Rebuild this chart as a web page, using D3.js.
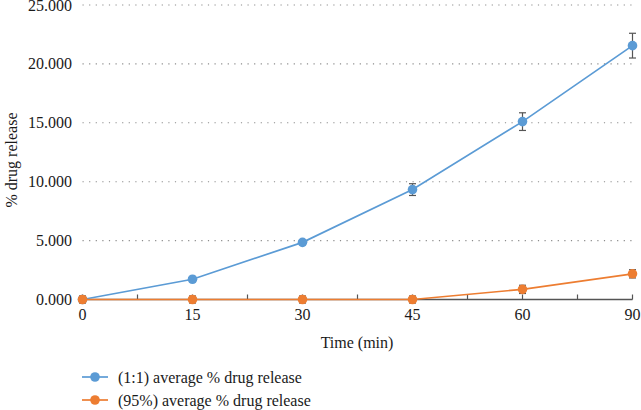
<!DOCTYPE html>
<html>
<head>
<meta charset="utf-8">
<script src="https://cdn.jsdelivr.net/npm/d3@7"></script>
<style>
  body { margin: 0; background: #fff; }
  svg { display: block; font-family: "Liberation Serif", "Times New Roman", serif; }
</style>
</head>
<body>
<div id="chart"></div>
<script>
// chart values
const times = ['0', '15', '30', '45', '60', '90'];
const ratioMeans = [0, 1.72, 4.85, 9.33, 15.1, 21.55];
const ratioErrors = [0.15, 0.15, 0.15, 0.5, 0.75, 1.05];
const pctMeans = [0, 0, 0, 0, 0.86, 2.18];
const pctErrors = [0.3, 0.3, 0.3, 0.3, 0.35, 0.35];
const yTicks = [0, 5, 10, 15, 20, 25];
const seriesNames = ['(1:1) average % drug release', '(95%) average % drug release'];

const width = 641;
const height = 410;

const svg = d3.select('#chart')
  .append('svg')
  .attr('width', width)
  .attr('height', height);

const xScale = d3.scalePoint().domain(times).range([82.5, 632.5]);
const yScale = d3.scaleLinear().domain([0, 25]).range([299.5, 5]);

// gridlines
svg.append('g')
  .selectAll('line')
  .data(yTicks.slice(1))
  .join('line')
  .attr('x1', 82.5)
  .attr('x2', 632.5)
  .attr('y1', (d) => yScale(d))
  .attr('y2', (d) => yScale(d))
  .attr('stroke', '#8c8c8c')
  .attr('stroke-width', 1.1)
  .attr('stroke-dasharray', '1.2,5.4');

// y labels
svg.append('g')
  .selectAll('text')
  .data(yTicks)
  .join('text')
  .attr('x', 72)
  .attr('y', (d) => yScale(d) + 5.5)
  .attr('text-anchor', 'end')
  .attr('font-size', 16)
  .attr('fill', '#1a1a1a')
  .text((d) => d3.format('.3f')(d));

// x axis line, ticks between and at categories
const step = xScale.step();
const tickPos = d3.range(0, times.length * 2 - 1).map((i) => 82.5 + i * step / 2);
const xAxis = svg.append('g');
xAxis.append('line')
  .attr('x1', 82.5)
  .attr('x2', 632.5)
  .attr('y1', yScale(0))
  .attr('y2', yScale(0))
  .attr('stroke', '#555')
  .attr('stroke-width', 1.4);
xAxis.selectAll('.tk')
  .data(tickPos)
  .join('line')
  .attr('class', 'tk')
  .attr('x1', (d) => d)
  .attr('x2', (d) => d)
  .attr('y1', yScale(0))
  .attr('y2', yScale(0) - 5)
  .attr('stroke', '#555')
  .attr('stroke-width', 1.2);
xAxis.selectAll('text')
  .data(times)
  .join('text')
  .attr('x', (d) => xScale(d))
  .attr('y', 320)
  .attr('text-anchor', 'middle')
  .attr('font-size', 16)
  .attr('fill', '#1a1a1a')
  .text((d) => d);

// axis titles
svg.append('text')
  .attr('x', 357)
  .attr('y', 348)
  .attr('text-anchor', 'middle')
  .attr('font-size', 16)
  .attr('fill', '#1a1a1a')
  .text('Time (min)');

svg.append('text')
  .attr('transform', 'translate(17, 160) rotate(-90)')
  .attr('text-anchor', 'middle')
  .attr('font-size', 16)
  .attr('fill', '#1a1a1a')
  .text('% drug release');

const series = [
  { name: seriesNames[0], means: ratioMeans, errors: ratioErrors, color: '#5b9bd5' },
  { name: seriesNames[1], means: pctMeans, errors: pctErrors, color: '#ed7d31' },
];

const line = d3.line()
  .x((d, i) => xScale(times[i]))
  .y((d) => yScale(d));

series.forEach((s) => {
  const g = svg.append('g');
  g.append('path')
    .attr('d', line(s.means))
    .attr('fill', 'none')
    .attr('stroke', s.color)
    .attr('stroke-width', 1.7);

  // error bars
  const eb = g.selectAll('.eb')
    .data(s.means.map((m, i) => ({ m, e: s.errors[i], t: times[i] })))
    .join('g')
    .attr('class', 'eb')
    .attr('stroke', '#555')
    .attr('stroke-width', 1.2);
  eb.append('line')
    .attr('x1', (d) => xScale(d.t))
    .attr('x2', (d) => xScale(d.t))
    .attr('y1', (d) => yScale(d.m + d.e))
    .attr('y2', (d) => yScale(d.m - d.e));
  eb.append('line')
    .attr('x1', (d) => xScale(d.t) - 3.5)
    .attr('x2', (d) => xScale(d.t) + 3.5)
    .attr('y1', (d) => yScale(d.m + d.e))
    .attr('y2', (d) => yScale(d.m + d.e));
  eb.append('line')
    .attr('x1', (d) => xScale(d.t) - 3.5)
    .attr('x2', (d) => xScale(d.t) + 3.5)
    .attr('y1', (d) => yScale(d.m - d.e))
    .attr('y2', (d) => yScale(d.m - d.e));

  g.selectAll('circle')
    .data(s.means)
    .join('circle')
    .attr('cx', (d, i) => xScale(times[i]))
    .attr('cy', (d) => yScale(d))
    .attr('r', 4.8)
    .attr('fill', s.color);
});

// legend
const legend = svg.append('g')
  .selectAll('g')
  .data(series)
  .join('g')
  .attr('transform', (d, i) => `translate(82, ${377 + i * 23})`);
legend.append('line')
  .attr('x1', 0)
  .attr('x2', 26)
  .attr('stroke', (d) => d.color)
  .attr('stroke-width', 1.7);
legend.append('circle')
  .attr('cx', 13)
  .attr('r', 4.8)
  .attr('fill', (d) => d.color);
legend.append('text')
  .attr('x', 36)
  .attr('y', 5.5)
  .attr('font-size', 16)
  .attr('fill', '#1a1a1a')
  .text((d) => d.name);
</script>
</body>
</html>
